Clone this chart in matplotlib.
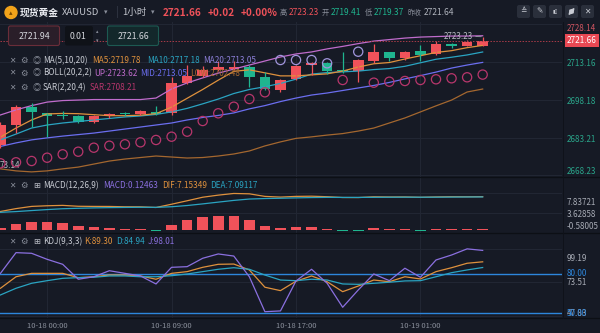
import numpy as np
import matplotlib
matplotlib.use("Agg")
import matplotlib.pyplot as plt
from matplotlib.patches import FancyBboxPatch, Circle

plt.rcParams['font.family'] = ['Noto Sans CJK SC', 'DejaVu Sans']

# ---------- data (XAUUSD 1h) ----------
open_ = [2680.27, 2688.21, 2695.47, 2692.85, 2692.18, 2691.90, 2689.28, 2691.78, 2692.85, 2692.57,
         2693.49, 2692.85, 2704.75, 2707.65, 2710.03, 2710.43, 2711.34, 2707.37, 2702.10, 2706.34,
         2711.90, 2712.93, 2710.03, 2709.76, 2713.72, 2717.06, 2714.91, 2717.69, 2716.26, 2720.23,
         2719.68, 2719.41]
high = [2689.40, 2696.14, 2696.82, 2692.97, 2693.76, 2691.98, 2691.98, 2692.77, 2693.37, 2694.28,
        2695.75, 2707.37, 2712.02, 2711.62, 2713.72, 2713.72, 2712.02, 2709.36, 2706.46, 2711.82,
        2713.21, 2713.21, 2717.29, 2714.40, 2720.35, 2717.18, 2717.57, 2719.95, 2721.66, 2720.55,
        2721.94, 2723.23]
low = [2679.08, 2685.03, 2687.53, 2683.56, 2690.59, 2689.00, 2689.00, 2690.99, 2691.78, 2692.37,
       2692.37, 2692.18, 2704.48, 2707.26, 2709.64, 2710.23, 2703.41, 2702.10, 2701.42, 2706.07,
       2708.05, 2708.45, 2708.72, 2705.39, 2712.69, 2713.72, 2714.00, 2713.72, 2715.99, 2718.64,
       2719.56, 2719.37]
close = [2688.21, 2695.47, 2693.49, 2691.90, 2691.78, 2689.28, 2691.78, 2692.57, 2692.45, 2693.76,
         2692.57, 2704.75, 2707.65, 2710.03, 2711.34, 2711.34, 2707.37, 2702.37, 2706.07, 2711.62,
         2712.93, 2709.76, 2709.64, 2714.00, 2717.06, 2714.68, 2717.29, 2715.99, 2720.23, 2719.68,
         2721.26, 2721.66]

ma5 = [2683.4, 2687.0, 2690.2, 2692.6, 2692.8, 2692.7, 2692.3, 2691.9, 2691.9, 2692.1,
       2692.7, 2695.3, 2698.8, 2702.3, 2706.0, 2709.5, 2710.1, 2708.9, 2707.7, 2707.7,
       2708.1, 2708.5, 2709.6, 2711.2, 2712.5, 2713.0, 2714.4, 2715.7, 2717.0, 2717.7,
       2718.9, 2719.78]
ma10 = [2682.3, 2684.6, 2687.0, 2688.2, 2689.0, 2689.6, 2690.2, 2690.8, 2691.4, 2691.8,
        2692.4, 2693.4, 2694.8, 2696.6, 2698.5, 2700.7, 2702.3, 2703.4, 2704.7, 2706.4,
        2708.4, 2709.0, 2709.3, 2709.6, 2710.2, 2710.6, 2711.5, 2712.9, 2714.3, 2715.1,
        2716.0, 2717.18]
boll_mid = [2679.7, 2681.1, 2682.3, 2683.1, 2683.8, 2684.4, 2685.0, 2685.8, 2686.6, 2687.4,
            2688.2, 2689.0, 2690.2, 2691.2, 2692.0, 2693.0, 2694.6, 2695.9, 2697.5, 2698.9,
            2700.1, 2700.9, 2701.9, 2702.9, 2703.9, 2705.1, 2706.5, 2707.8, 2709.2, 2710.8,
            2712.0, 2713.05]
boll_up = [2692.2, 2694.2, 2695.9, 2697.3, 2697.9, 2698.1, 2698.3, 2698.3, 2698.3, 2698.3,
           2698.9, 2702.5, 2704.9, 2706.9, 2708.8, 2710.4, 2712.0, 2713.6, 2715.2, 2716.4,
           2717.2, 2718.4, 2719.4, 2720.5, 2721.5, 2722.1, 2722.7, 2723.1, 2723.3, 2723.5,
           2723.5, 2723.62]
boll_low = [2670.8, 2670.0, 2669.6, 2670.0, 2670.8, 2671.5, 2672.7, 2673.9, 2674.7, 2675.3,
            2675.9, 2675.5, 2675.1, 2675.3, 2675.9, 2676.7, 2677.9, 2679.9, 2681.5, 2682.9,
            2683.5, 2684.2, 2684.8, 2685.8, 2687.0, 2689.0, 2691.0, 2693.4, 2695.8, 2698.1,
            2701.3, 2702.48]
sar = [2673.01, 2673.41, 2673.92, 2675.23, 2676.58, 2677.61, 2679.20, 2679.99, 2680.55, 2681.34,
       2682.26, 2683.57, 2685.55, 2689.79, 2692.85, 2695.47, 2698.53, 2701.18, 2714.00, 2714.00,
       2714.00, 2712.69, 2706.07, 2717.29, 2705.00, 2705.39, 2705.67, 2706.07, 2706.34, 2706.74,
       2707.14, 2708.21]

dif = [3.97, 4.59, 5.06, 5.20, 5.28, 5.09, 5.06, 5.05, 4.98, 4.97, 4.83, 5.53, 6.27, 7.03, 7.48, 7.837,
       7.76, 7.21, 7.06, 7.21, 7.25, 7.14, 6.97, 6.96, 7.12, 7.08, 7.09, 7.01, 7.09, 7.14, 7.13, 7.15349]
dea = [3.79, 3.95, 4.17, 4.38, 4.56, 4.66, 4.74, 4.80, 4.84, 4.87, 4.86, 4.99, 5.25, 5.60, 5.98, 6.35,
       6.64, 6.75, 6.81, 6.89, 6.96, 7.00, 6.99, 6.99, 7.01, 7.03, 7.04, 7.03, 7.04, 7.06, 7.08, 7.09117]
macd = [0.36, 1.29, 1.78, 1.65, 1.44, 0.86, 0.64, 0.49, 0.28, 0.21, -0.15, 1.07, 2.04, 2.85, 3.0, 3.0,
        2.25, 0.92, 0.49, 0.64, 0.58, 0.28, -0.15, -0.15, 0.35, 0.25, 0.25, -0.15, 0.25, 0.3, 0.25, 0.12463]

k_line = [69.1, 77.9, 80.5, 80.5, 80.5, 77.2, 77.9, 79.2, 79.2, 78.5, 76.0, 80.5, 81.8, 85.1, 87.4, 87.6,
          83.1, 69.9, 67.3, 74.5, 78.5, 74.1, 66.5, 70.8, 75.4, 74.1, 77.9, 76.2, 81.8, 84.8, 88.2, 89.30]
d_line = [64.0, 69.1, 72.9, 74.9, 76.7, 77.2, 77.5, 78.5, 78.5, 77.9, 77.9, 78.7, 80.0, 81.8, 83.6, 84.8,
          83.6, 79.2, 75.4, 74.9, 76.0, 75.4, 72.4, 72.1, 72.9, 73.7, 74.7, 74.9, 77.9, 81.0, 83.1, 84.94]
j_line = [80.5, 96.3, 95.8, 91.2, 87.4, 76.0, 77.9, 82.5, 80.5, 78.5, 72.4, 85.1, 85.6, 92.0, 95.3, 93.7,
          77.9, 51.2, 51.8, 74.7, 83.6, 72.9, 54.6, 67.8, 80.0, 74.9, 84.4, 77.5, 90.7, 94.5, 99.19, 98.01]

time_pos = [3, 11, 19, 27]
time_labels = ["10-18 00:00", "10-18 09:00", "10-18 17:00", "10-19 01:00"]
price_ticks = [2728.14, 2713.16, 2698.18, 2683.21, 2668.23]
macd_ticks = [7.83721, 3.62858, -0.58005]
kdj_ticks = [99.19, 73.51, 47.83]
kdj_levels = [80, 50]

# ---------- colours ----------
BG = '#161a25'
GRID = '#212633'
RED = '#f0525a'
GREEN = '#1fb58f'
ORANGE = '#df913d'
TEAL = '#2aa4c2'
MIDBLUE = '#6b6ef0'
PINK = '#c06ccc'
BROWN = '#a4672f'
SAR_DN = '#b8366c'
SAR_UP = '#a195dc'
PURPLE = '#8b70e0'
TXT = '#c8cbd3'
GRAY = '#8a8f9b'
KBLUE = '#2d86dc'
AXGREEN = '#2aa58a'

W, H = 600, 333
fig = plt.figure(figsize=(W / 100, H / 100), dpi=100, facecolor=BG)
x = np.arange(len(close))


def panel(top, bottom, ylim, yticks):
    ax = fig.add_axes([0, 1 - bottom / H, 562 / W, (bottom - top) / H])
    ax.set_facecolor(BG)
    for s in ax.spines.values():
        s.set_visible(False)
    ax.set_xlim(-0.03, 36.1)
    ax.set_ylim(*ylim)
    ax.set_xticks(time_pos)
    ax.set_yticks(yticks)
    ax.tick_params(length=0, labelleft=False, labelbottom=False)
    ax.grid(True, color=GRID, lw=0.8)
    ax.set_axisbelow(True)
    return ax


def side_label(ax, v, s, color, dy=0.0):
    ax.annotate(s, xy=(1, v), xycoords=('axes fraction', 'data'), xytext=(3.6, dy * 0.72),
                textcoords='offset points', va='center', ha='left', fontsize=5.8,
                color=color, annotation_clip=False)


# ---------- main price panel ----------
ax = panel(22, 177, (2667.57, 2729.08), price_ticks)
ax.plot(x, boll_up, color=PINK, lw=0.9)
ax.plot(x, boll_low, color=BROWN, lw=0.9)
ax.plot(x, boll_mid, color=MIDBLUE, lw=0.9)
ax.plot(x, ma10, color=TEAL, lw=0.9)
ax.plot(x, ma5, color=ORANGE, lw=0.9)

o, c, h, l = map(np.array, (open_, close, high, low))
cols = [RED if cc >= oo else GREEN for oo, cc in zip(o, c)]
ax.vlines(x, l, h, colors=cols, lw=0.9)
ax.bar(x, np.maximum(np.abs(c - o), 0.35), bottom=np.minimum(o, c), width=0.68, color=cols)

sar_cols = [SAR_UP if s > cc else SAR_DN for s, cc in zip(sar, c)]
ax.scatter(x, sar, s=44, facecolors='none', edgecolors=sar_cols, linewidths=0.9, zorder=4)

ax.axhline(close[-1], color='#a83b48', lw=0.7, ls=(0, (1.5, 1.5)))
ax.annotate(f"{high[-1]:.2f}", xy=(x[-1], high[-1]), xytext=(-7, 0.5), textcoords='offset points',
            ha='right', va='center', fontsize=5.8, color='#b9bcc5',
            arrowprops=dict(arrowstyle='-', color='#9a9ea8', lw=0.6, shrinkA=0, shrinkB=1))
# lowest-low tag at the left edge (only its last digits are on screen)
ax.annotate("73.14", xy=(0, 2673.14), xytext=(-0.5, -2), textcoords='offset points',
            ha='left', va='center', fontsize=5.8, color='#b9bcc5', annotation_clip=False)

offs = [-4.6, -1.5, -1.5, -2.4, 4.3]
for v, dy in zip(price_ticks, offs):
    side_label(ax, v, f"{v:.2f}", '#d05561' if v == price_ticks[0] else AXGREEN, dy)
ax.annotate(f"{close[-1]:.2f}", xy=(1, close[-1]), xycoords=('axes fraction', 'data'),
            xytext=(3.6, 0), textcoords='offset points', va='center', ha='left', fontsize=5.9,
            color='white', annotation_clip=False,
            bbox=dict(boxstyle='square,pad=0.28', fc='#e84853', ec='none'))

# ---------- MACD panel ----------
ax2 = panel(177, 233, (-0.644, 11.37), macd_ticks)
ax2.bar(x, macd, width=0.68, color=[RED if v >= 0 else GREEN for v in macd])
ax2.plot(x, dif, color=ORANGE, lw=0.9)
ax2.plot(x, dea, color=TEAL, lw=0.9)
for v, dy in zip(macd_ticks, [-8.8, -1.9, 6.0]):
    side_label(ax2, v, f"{v:.5f}", '#a8acb6', dy)

# ---------- KDJ panel ----------
ax3 = panel(233, 318, (46.4, 111.3), kdj_ticks)
for lv in kdj_levels:
    ax3.axhline(lv, color=KBLUE, lw=1.0)
ax3.plot(x, k_line, color=ORANGE, lw=0.9)
ax3.plot(x, d_line, color=TEAL, lw=0.9)
ax3.plot(x, j_line, color=PURPLE, lw=0.9)
for v, dy in zip(kdj_ticks, [-10, 0, 2.7]):
    side_label(ax3, v, f"{v:.2f}", '#a8acb6', dy)
for lv in kdj_levels:
    side_label(ax3, lv, f"{lv:.2f}", KBLUE, 0)
ax3.tick_params(labelbottom=True, colors=GRAY, labelsize=5.5, pad=2.8)
ax3.set_xticklabels(time_labels)

# ---------- overlay: header, inputs, legends ----------
ov = fig.add_axes([0, 0, 1, 1], zorder=10)
ov.set_xlim(0, W)
ov.set_ylim(H, 0)
ov.axis('off')
ov.patch.set_alpha(0)

for yy in (177, 233, 318):
    ov.plot([0, W], [yy, yy], color='#0c0f15', lw=0.9)
ov.plot([562.5, 562.5], [22, 318], color='#0f121a', lw=0.7)


def t(px, py, s, color, size=5.9, **kw):
    ov.text(px, py, s, color=color, fontsize=size, va='center', ha='left', **kw)


ov.add_patch(Circle((11, 12.5), 6, color='#f2a31a'))
ov.text(11, 12.8, '▴', color='#7a4a00', fontsize=5, ha='center', va='center')
hy = 12.5
t(20, hy, "现货黄金", '#e8eaef', 7.0, fontweight='bold')
t(62, hy, "XAUUSD", '#c3c6ce', 6.9)
t(104, hy, "▾", GRAY, 5)
t(116, hy, "|", '#3a3f4d', 7)
t(122, hy, "1小时", '#c3c6ce', 6.9)
t(151, hy, "▾", GRAY, 5)
t(163, hy, "2721.66", RED, 7.2, fontweight='bold')
t(208, hy, "+0.02", RED, 7.2, fontweight='bold')
t(241, hy, "+0.00%", RED, 7.2, fontweight='bold')
t(280, hy, "高", GRAY, 5.2)
t(289, hy, "2723.23", RED, 6.0)
t(322, hy, "开", GRAY, 5.2)
t(331, hy, "2719.41", GREEN, 6.0)
t(365, hy, "低", GRAY, 5.2)
t(374, hy, "2719.37", GREEN, 6.0)
t(407, hy, "昨收", GRAY, 5.0)
t(424, hy, "2721.64", '#b0b4bd', 6.0)

# toolbar buttons (top right)
for bx in [517, 533, 549, 565, 581]:
    ov.add_patch(FancyBboxPatch((bx, 5), 13, 13, boxstyle='round,pad=0,rounding_size=2',
                                fc='#2a2f3b', ec='none'))
for bx, g, fs in [(517, '≙', 5.5), (533, '✎', 5.5), (549, '▮▯', 3.5), (581, '✕', 5.5)]:
    ov.text(bx + 6.5, 11.7, g, color='#c9ccd4', fontsize=fs, ha='center', va='center')
# expand icon: no installed font has the double diagonal arrow, so draw it
ov.annotate('', xy=(574.5, 8), xytext=(568.5, 15),
            arrowprops=dict(arrowstyle='<|-|>,head_length=0.25,head_width=0.15',
                            color='#c9ccd4', lw=0.8, shrinkA=0, shrinkB=0))

ov.add_patch(FancyBboxPatch((8.5, 26), 51, 19.5, boxstyle='round,pad=0,rounding_size=2',
                            fc='#2a1e29', ec='#6a2d39', lw=0.8))
ov.text(34, 36.5, "2721.94", color='#d5d7dd', fontsize=6.3, ha='center', va='center')
ov.add_patch(FancyBboxPatch((65, 26), 28, 19.5, boxstyle='round,pad=0,rounding_size=2',
                            fc='#0f1218', ec='none'))
ov.text(78, 36.5, "0.01", color='#d5d7dd', fontsize=6.3, ha='center', va='center')
ov.text(97.5, 31.5, "▴", color=GRAY, fontsize=3.5, ha='center', va='center')
ov.text(97.5, 41, "▾", color=GRAY, fontsize=3.5, ha='center', va='center')
ov.add_patch(FancyBboxPatch((107.5, 26), 51, 19.5, boxstyle='round,pad=0,rounding_size=2',
                            fc='#13282b', ec='#1d5a52', lw=0.8))
ov.text(133, 36.5, "2721.66", color='#d5d7dd', fontsize=6.3, ha='center', va='center')

rows = [
    (60.5, '◎', [("MA(5,10,20)", 43, TXT), ("MA5:2719.78", 92, ORANGE),
                 ("MA10:2717.18", 147, TEAL), ("MA20:2713.05", 203, '#8c7fd8')]),
    (73.0, '◎', [("BOLL(20,2,2)", 43, TXT), ("UP:2723.62", 94, PINK),
                 ("MID:2713.05", 140, MIDBLUE), ("LOW:2702.48", 190, BROWN)]),
    (87.5, '◎', [("SAR(2,20,4)", 43, TXT), ("SAR:2708.21", 90, SAR_DN)]),
    (185.5, '⊞', [("MACD(12,26,9)", 43, TXT), ("MACD:0.12463", 103, PURPLE),
                  ("DIF:7.15349", 162, ORANGE), ("DEA:7.09117", 210, TEAL)]),
    (241.7, '⊞', [("KDJ(9,3,3)", 43, TXT), ("K:89.30", 84, ORANGE),
                  ("D:84.94", 116, TEAL), ("J:98.01", 148, PURPLE)]),
]
for ry, icon, items in rows:
    ov.text(12, ry, '✕', color=GRAY, fontsize=5.5, ha='center', va='center')
    ov.text(24, ry, '⚙', color=GRAY, fontsize=6, ha='center', va='center')
    ov.text(36.5, ry, icon, color='#b8bbc4' if icon == '⊞' else GRAY, fontsize=6,
            ha='center', va='center')
    for s, px, col in items:
        t(px, ry, s, col, 5.9)

fig.savefig("out.png", dpi=100, facecolor=BG)
